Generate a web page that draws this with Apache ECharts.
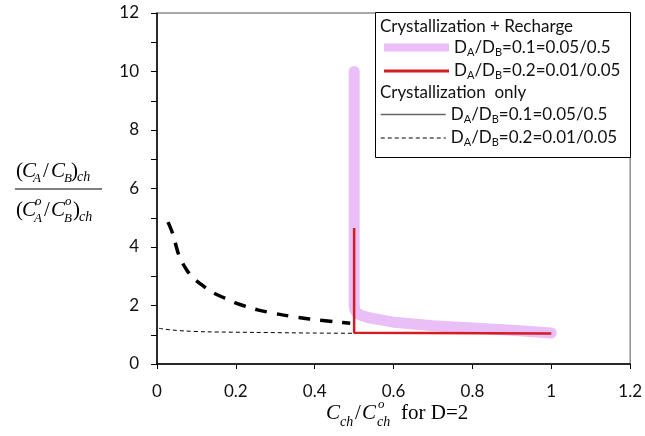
<!DOCTYPE html>
<html>
<head>
<meta charset="utf-8">
<script src="https://cdn.jsdelivr.net/npm/echarts@6/dist/echarts.min.js"></script>
<style>
  html, body { margin: 0; padding: 0; background: #fff; }
  #chart { width: 645px; height: 436px; }
</style>
</head>
<body>
<div id="chart"></div>
<script>
// Crystallization + Recharge, DA/DB = 0.1 (thick pink)
const rechargeHiX = [0.5, 0.5, 0.502, 0.506, 0.512, 0.52, 0.535, 0.55, 0.6, 0.65, 0.7, 0.8, 0.9, 1.0]
const rechargeHiY = [10.0, 2.0, 1.85, 1.76, 1.70, 1.65, 1.59, 1.55, 1.43, 1.37, 1.31, 1.23, 1.15, 1.06]
// Crystallization + Recharge, DA/DB = 0.2 (red)
const rechargeLoX = [0.5, 0.5, 1.0]
const rechargeLoY = [4.65, 1.07, 1.04]
// Crystallization only, DA/DB = 0.1 (thick long dashes)
const crystHiX = [0.028, 0.04, 0.056, 0.075, 0.092, 0.121, 0.139, 0.172, 0.197, 0.23, 0.255, 0.318, 0.386, 0.455, 0.49]
const crystHiY = [4.85, 4.45, 3.7, 3.22, 2.94, 2.63, 2.46, 2.25, 2.1, 1.95, 1.85, 1.68, 1.54, 1.44, 1.39]
// Crystallization only, DA/DB = 0.2 (thin short dashes)
const crystLoX = [0.005, 0.02, 0.04, 0.07, 0.126, 0.25, 0.38, 0.5]
const crystLoY = [1.22, 1.19, 1.16, 1.13, 1.10, 1.08, 1.06, 1.05]

const legendText = {
  rc01: '{n|D}{s|A}{n|/D}{s|B}{n|=0.1=0.05/0.5}',
  rc02: '{n|D}{s|A}{n|/D}{s|B}{n|=0.2=0.01/0.05}',
  co01: '{n|D}{s|A}{n|/D}{s|B}{n|=0.1=0.05/0.5}',
  co02: '{n|D}{s|A}{n|/D}{s|B}{n|=0.2=0.01/0.05}'
}

const zip = (xs, ys) => xs.map((x, i) => [x, ys[i]])

const SERIF = '"Liberation Serif", "Times New Roman", serif'
const SANS = 'Lato, "Open Sans", sans-serif'

// small helper for the math-like axis titles
function piece (text, x, y, size, italic) {
  return {
    type: 'text', x: x, y: y, z: 10,
    style: {
      text: text,
      font: (italic ? 'italic ' : '') + size + 'px ' + SERIF,
      fill: '#000',
      align: 'left',
      verticalAlign: 'middle'
    }
  }
}

const yTitle = [
  piece('(', 16, 171, 21), piece('C', 22, 171, 21, true), piece('A', 33, 179, 13, true),
  piece('/', 43, 171, 21), piece('C', 51, 171, 21, true), piece('B', 64, 179, 13, true),
  piece(')', 71, 171, 21), piece('ch', 77, 177, 14, true),
  { type: 'line', z: 10, shape: { x1: 15, y1: 189, x2: 102, y2: 189 }, style: { stroke: '#000', lineWidth: 1 } },
  piece('(', 16, 210, 21), piece('C', 22, 210, 21, true), piece('o', 35, 202, 13, true), piece('A', 34, 219, 13, true),
  piece('/', 44, 210, 21), piece('C', 51, 210, 21, true), piece('o', 65, 202, 13, true), piece('B', 64, 219, 13, true),
  piece(')', 73, 210, 21), piece('ch', 79, 217, 14, true)
]

const xTitle = [
  piece('C', 326, 413, 21, true), piece('ch', 340, 422, 14, true),
  piece('/', 355, 413, 21), piece('C', 362, 413, 21, true),
  piece('o', 378, 405, 13, true), piece('ch', 377, 422, 14, true),
  piece('for D=2', 401, 413, 21)
]

const legendBox = [
  { type: 'rect', z: 5, shape: { x: 375.5, y: 12.5, width: 255, height: 145 }, style: { fill: '#fff', stroke: '#000', lineWidth: 1 } },
  { type: 'text', z: 10, x: 380, y: 27, style: { text: 'Crystallization + Recharge', font: '17px ' + SANS, fill: '#111', verticalAlign: 'middle' } },
  { type: 'text', z: 10, x: 380, y: 93, style: { text: 'Crystallization  only', font: '17px ' + SANS, fill: '#111', verticalAlign: 'middle' } }
]

const legendCommon = {
  orient: 'vertical',
  left: 380,
  padding: 0,
  itemWidth: 65,
  itemHeight: 14,
  itemGap: 5,
  z: 12,
  selectedMode: false,
  itemStyle: { opacity: 0, borderWidth: 0 },
  formatter: (name) => legendText[name],
  textStyle: {
    color: '#111',
    rich: {
      n: { fontFamily: SANS, fontSize: 17, lineHeight: 20, color: '#111' },
      s: { fontFamily: SANS, fontSize: 11, lineHeight: 11, verticalAlign: 'bottom', color: '#111' }
    }
  }
}

const chart = echarts.init(document.getElementById('chart'))

const option = {
  backgroundColor: '#fff',
  animation: false,
  grid: {
    left: 157, right: 13, top: 13, bottom: 72,
    show: true, borderColor: '#555', borderWidth: 1
  },
  xAxis: {
    type: 'value', min: 0, max: 1.2, interval: 0.2,
    axisLine: { lineStyle: { color: '#000', width: 1.5 } },
    axisTick: { show: true, inside: false, length: 5, lineStyle: { color: '#000' } },
    axisLabel: { margin: 19, fontFamily: SANS, fontSize: 17, color: '#111' },
    splitLine: { show: false }
  },
  yAxis: {
    type: 'value', min: 0, max: 12, interval: 2,
    axisLine: { show: true, lineStyle: { color: '#000', width: 1.5 } },
    axisTick: { show: true, inside: false, length: 6, lineStyle: { color: '#000' } },
    minorTick: { show: true, splitNumber: 2, length: 6, lineStyle: { color: '#000' } },
    axisLabel: { margin: 18, fontFamily: SANS, fontSize: 17, color: '#111' },
    splitLine: { show: false }
  },
  legend: [
    Object.assign({}, legendCommon, {
      top: 39,
      data: [
        { name: 'rc01', lineStyle: { width: 8, cap: 'butt' } },
        { name: 'rc02', lineStyle: { width: 3 } }
      ]
    }),
    Object.assign({}, legendCommon, {
      top: 106,
      data: [
        { name: 'co01', lineStyle: { width: 1.5, color: '#666', type: 'solid' } },
        { name: 'co02', lineStyle: { width: 1, type: [4, 3] } }
      ]
    })
  ],
  graphic: yTitle.concat(xTitle, legendBox),
  series: [
    {
      name: 'rc01', type: 'line', showSymbol: false, symbol: 'none',
      color: 'rgb(234,190,246)',
      data: zip(rechargeHiX, rechargeHiY),
      lineStyle: { color: 'rgb(234,190,246)', width: 11, cap: 'round', join: 'round' },
      z: 2
    },
    {
      name: 'rc02', type: 'line', showSymbol: false, symbol: 'none',
      color: 'rgb(212,28,36)',
      data: zip(rechargeLoX, rechargeLoY),
      lineStyle: { color: 'rgb(212,28,36)', width: 2.5 },
      z: 3
    },
    {
      name: 'co01', type: 'line', showSymbol: false, symbol: 'none', smooth: 0.3,
      color: '#000',
      data: zip(crystHiX, crystHiY),
      lineStyle: { color: '#000', width: 3.5, type: [12, 10] },
      z: 3
    },
    {
      name: 'co02', type: 'line', showSymbol: false, symbol: 'none', smooth: 0.3,
      color: '#000',
      data: zip(crystLoX, crystLoY),
      lineStyle: { color: '#000', width: 1, type: [4, 3] },
      z: 3
    }
  ]
}

chart.setOption(option)
window.addEventListener('resize', function () {
  chart.resize()
})
</script>
</body>
</html>
